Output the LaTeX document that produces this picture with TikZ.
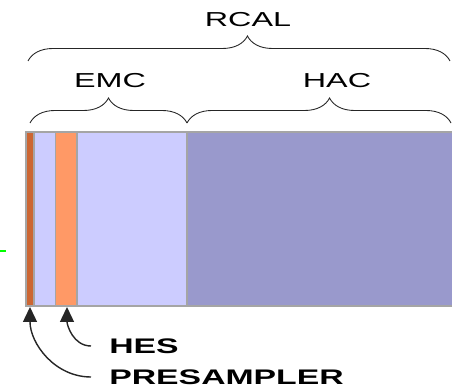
\documentclass[tikz,border=0pt]{standalone}
\usepackage{fontspec}
\setmainfont{Liberation Sans}
\usetikzlibrary{decorations.pathreplacing,arrows.meta}
\definecolor{preorange}{RGB}{204,102,51}
\definecolor{hesorange}{RGB}{255,153,102}
\definecolor{emcblue}{RGB}{204,204,255}
\definecolor{hacblue}{RGB}{153,153,204}
\definecolor{edgegray}{RGB}{165,165,165}
\begin{document}
\begin{tikzpicture}[scale=1,
  layer/.style={draw=edgegray,line width=0.7pt},
  brc/.style={decorate,decoration={brace,amplitude=0.5cm,aspect=#1},line width=0.5pt,black!85},
  lbl/.style={font=\fontsize{11.5}{13}\selectfont,xscale=1.6,inner sep=1pt},
  tag/.style={font=\fontsize{12}{14}\selectfont\bfseries,xscale=1.6,inner sep=1pt,anchor=west},
  arr/.style={-{Triangle[width=0.28cm,length=0.3cm]},line width=0.8pt,black!85}]
\useasboundingbox (0,0) rectangle (9.04,7.74);
\fill[white] (0,0) rectangle (9.04,7.74);
% calorimeter layers
\foreach \xa/\xb/\col in {0.52/0.68/preorange,0.68/1.11/emcblue,1.11/1.54/hesorange,1.54/3.74/emcblue,3.74/9.3/hacblue}
  \draw[layer,fill=\col] (\xa,1.62) rectangle (\xb,5.10);
%\draw[green] (0,2.72)--(0.12,2.72);
\draw[green,line width=0.8pt] (0,2.72)--(0.12,2.72);
% braces
\draw[brc=0.52] (0.56,6.52)--(9.0,6.52);
\draw[brc=0.50] (0.60,5.28)--(3.74,5.28);
\draw[brc=0.54] (3.74,5.28)--(9.02,5.28);
\node[lbl] (rcal) at (4.96,7.34) {RCAL};
\node[lbl] (emc) at (2.20,6.12) {EMC};
\node[lbl] (hac) at (6.74,6.12) {HAC};
% labels below
\node[tag] (hes) at (2.12,0.82) {HES};
\node[tag] (pres) at (2.12,0.20) {PRESAMPLER};
\coordinate (hestip) at (1.34,1.60);
\coordinate (pretip) at (0.60,1.60);
\draw[arr] ([xshift=-0.3cm]hes.west) to[out=180,in=-90] (hestip);
\draw[arr] ([xshift=-0.3cm]pres.west) to[out=180,in=-90] (pretip);
\end{tikzpicture}
\end{document}
